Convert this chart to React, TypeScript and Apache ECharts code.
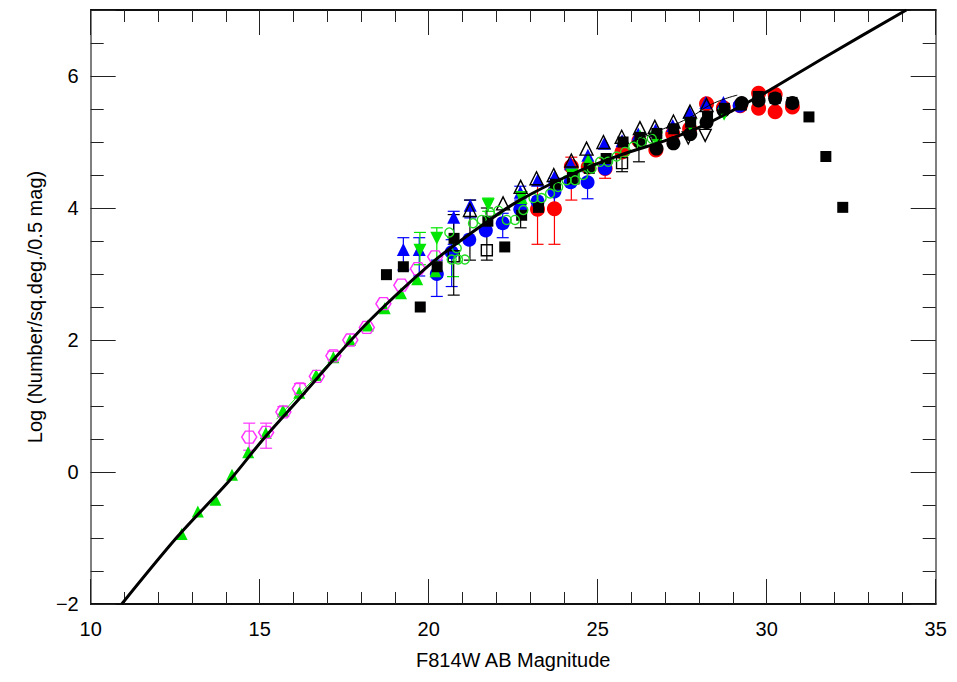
import React, { useEffect, useRef } from 'react';
import * as echarts from 'echarts';

// Model curves
const modelMag = [10.92, 12.55, 14.12, 15.11, 16.19, 17.18, 18.26, 20.19, 21.72, 22.7, 24.18, 25.66, 27.0, 28.0, 29.0, 30.0, 31.77, 34.13];
const modelLog = [-2.0, -0.99, -0.12, 0.5, 1.12, 1.7, 2.3, 3.21, 3.79, 4.12, 4.5, 4.8, 5.02, 5.22, 5.48, 5.76, 6.3, 7.0];
const thinBlack = [[26.0, 5.0], [26.8, 5.17], [27.68, 5.36], [28.4, 5.58], [29.13, 5.71]];
const thinGreen = [[15.5, 0.8], [16.4, 1.3], [17.3, 1.78]];

// Data series
const greenTri = [[12.69, -0.94], [13.17, -0.6], [13.69, -0.42], [14.18, -0.04], [14.66, 0.3], [15.18, 0.59], [15.69, 0.93], [16.17, 1.2], [16.67, 1.47], [17.18, 1.74], [17.67, 2.0], [18.2, 2.22], [18.7, 2.48], [19.18, 2.71], [19.66, 2.92], [20.2, 3.04], [22.75, 4.15], [24.72, 4.73], [26.25, 5.1], [26.75, 5.1]];
const greenInv = [[19.74, 3.36], [20.24, 3.54], [21.76, 4.05], [22.74, 4.16], [24.24, 4.5], [26.74, 5.06], [27.74, 5.25], [28.74, 5.42]];
const greenCirc = [[20.61, 3.63], [20.68, 3.22], [20.83, 3.39], [20.87, 3.22], [21.07, 3.22], [21.31, 3.77], [21.57, 3.82], [21.81, 3.93], [22.06, 3.96], [22.31, 3.82], [22.55, 3.82], [22.8, 3.97], [23.1, 4.15], [23.34, 4.15], [23.59, 4.22], [23.83, 4.32], [24.08, 4.42], [24.33, 4.42], [24.57, 4.5], [24.82, 4.6], [25.07, 4.7], [25.31, 4.7], [25.56, 4.78], [25.81, 4.85], [26.05, 4.93], [26.3, 5.0], [26.6, 5.05]];
const magentaHex = [[14.69, 0.53], [15.19, 0.6], [15.7, 0.91], [16.19, 1.26], [16.69, 1.45], [17.18, 1.76], [17.68, 2.0], [18.17, 2.19], [18.66, 2.55], [19.19, 2.83], [19.68, 3.08], [20.19, 3.26]];
const blackSq = [[18.75, 2.99], [19.25, 3.11], [19.75, 2.5], [20.25, 3.11], [20.75, 3.54], [21.75, 3.8], [22.25, 3.41], [22.75, 3.89], [23.25, 4.01], [23.75, 4.36], [24.25, 4.45], [24.75, 4.6], [25.25, 4.75], [25.75, 5.0], [26.25, 5.07], [26.75, 5.13], [27.25, 5.2], [27.75, 5.3], [28.25, 5.39], [28.75, 5.51], [29.25, 5.56], [29.75, 5.69], [30.25, 5.66], [30.75, 5.6], [31.25, 5.38], [31.75, 4.78], [32.25, 4.01]];
const blueTri = [[19.25, 3.37], [19.72, 3.37], [20.74, 3.86], [21.23, 4.04], [22.71, 4.24], [23.22, 4.42], [23.72, 4.47], [24.2, 4.67], [24.71, 4.8], [25.2, 4.98], [25.72, 5.02], [26.2, 5.12], [26.71, 5.18], [27.22, 5.25], [27.71, 5.45], [28.2, 5.6], [28.72, 5.6]];
const blueCirc = [[20.24, 3.0], [20.68, 3.33], [21.2, 3.52], [21.69, 3.66], [22.19, 3.77], [22.71, 3.98], [23.22, 4.1], [23.72, 4.25], [24.2, 4.39], [24.7, 4.39], [25.22, 4.6], [29.2, 5.55]];
const redCirc = [[23.22, 3.98], [23.72, 3.99], [24.22, 4.63], [24.72, 4.62], [25.22, 4.6], [25.72, 4.85], [26.22, 5.02], [26.72, 4.88], [27.22, 5.12], [27.72, 5.2], [28.22, 5.58], [28.72, 5.52], [29.22, 5.55], [29.76, 5.74], [29.76, 5.51], [30.25, 5.72], [30.25, 5.46], [30.76, 5.53]];
const blackCirc = [[26.25, 5.0], [26.74, 4.9], [27.24, 4.98], [27.74, 5.12], [28.22, 5.3], [28.72, 5.48], [29.26, 5.59], [29.76, 5.63], [30.25, 5.66], [30.76, 5.59]];
const blackOpenTri = [[21.22, 3.97], [22.2, 4.07], [22.72, 4.32], [23.19, 4.45], [23.7, 4.5], [24.22, 4.72], [24.67, 4.9], [25.17, 5.0], [25.71, 5.08], [26.25, 5.21], [26.69, 5.23], [27.24, 5.31], [27.73, 5.46], [28.22, 5.56]];
const blackOpenInv = [[26.7, 5.0], [27.68, 5.06], [28.18, 5.1]];
const blackOpenSq = [[20.74, 3.27], [21.72, 3.36], [24.28, 4.45], [25.72, 4.68]];

// Error bars: [mag, low, high]
const magentaErr = [[14.69, 0.33, 0.74], [15.19, 0.36, 0.74], [15.7, 0.84, 0.99], [16.19, 1.18, 1.34], [17.18, 1.7, 1.83]];
const blueTriErr = [[19.25, 3.06, 3.55], [19.72, 2.97, 3.55], [20.74, 3.45, 3.95], [21.23, 3.85, 4.12], [22.71, 4.12, 4.33]];
const blueCircErr = [[20.24, 2.66, 3.21], [20.68, 2.81, 3.52], [22.19, 3.55, 3.92], [23.72, 4.05, 4.45], [24.7, 4.14, 4.55]];
const blackErr = [[20.74, 2.68, 3.9], [21.22, 3.21, 4.12], [21.72, 3.21, 4.0], [22.72, 3.7, 4.05], [25.72, 4.55, 4.85], [26.22, 4.7, 5.0]];
const greenErr = [[19.74, 3.14, 3.63], [20.24, 2.95, 3.7], [20.72, 2.96, 3.55], [21.76, 3.95, 4.15]];
const redErr = [[23.22, 3.45, 4.35], [23.72, 3.45, 4.3], [24.22, 4.12, 4.77], [25.22, 4.45, 4.75]];

const FONT = 'Liberation Sans, Arial, sans-serif';
const HEX = 'path://M-1,0 L-0.5,-0.866 L0.5,-0.866 L1,0 L0.5,0.866 L-0.5,0.866 Z';

function errSeries(data: number[][], color: string, z: number) {
  return {
    type: 'custom',
    xAxisIndex: 0,
    yAxisIndex: 0,
    silent: true,
    z,
    data,
    encode: { x: 0, y: [1, 2] },
    renderItem: (_p: any, api: any) => {
      const x = api.value(0);
      const lo = api.coord([x, api.value(1)]);
      const hi = api.coord([x, api.value(2)]);
      const w = 6;
      const st = { stroke: color, lineWidth: 1.2 };
      return {
        type: 'group',
        children: [
          { type: 'line', shape: { x1: lo[0], y1: lo[1], x2: hi[0], y2: hi[1] }, style: st },
          { type: 'line', shape: { x1: lo[0] - w, y1: lo[1], x2: lo[0] + w, y2: lo[1] }, style: st },
          { type: 'line', shape: { x1: hi[0] - w, y1: hi[1], x2: hi[0] + w, y2: hi[1] }, style: st },
        ],
      };
    },
  };
}

function scatter(data: number[][], symbol: string, size: any, color: string, open: boolean, z: number, rotate = 0) {
  return {
    type: 'scatter',
    xAxisIndex: 0,
    yAxisIndex: 0,
    data,
    symbol,
    symbolSize: size,
    symbolRotate: rotate,
    z,
    silent: true,
    itemStyle: open
      ? { color: 'rgba(0,0,0,0)', borderColor: color, borderWidth: 1.4, opacity: 1 }
      : { color, borderWidth: 0, opacity: 1 },
  };
}

function xAx(position: string, interval: number, len: number, labels: boolean, lineColor: string) {
  return {
    type: 'value',
    position,
    min: 10,
    max: 35,
    interval,
    axisLine: { show: true, onZero: false, lineStyle: { color: lineColor, width: 1.5 } },
    axisTick: { show: true, inside: true, length: len, lineStyle: { color: '#222', width: 1 } },
    axisLabel: { show: labels, fontSize: 20, color: '#000', margin: 15, fontFamily: FONT },
    splitLine: { show: false },
    ...(labels
      ? {
          name: 'F814W AB Magnitude',
          nameLocation: 'middle',
          nameGap: 46,
          nameTextStyle: { fontSize: 20, color: '#000', fontFamily: FONT },
        }
      : {}),
  };
}

function yAx(position: string, interval: number, len: number, labels: boolean, lineColor: string) {
  return {
    type: 'value',
    position,
    min: -2,
    max: 7,
    interval,
    axisLine: { show: true, onZero: false, lineStyle: { color: lineColor, width: 1.5 } },
    axisTick: { show: true, inside: true, length: len, lineStyle: { color: '#222', width: 1 } },
    axisLabel: {
      show: labels,
      fontSize: 20,
      color: '#000',
      margin: 12,
      fontFamily: FONT,
      formatter: (v: number) => (v === 7 ? '' : v < 0 ? '\u2212' + Math.abs(v) : String(v)),
    },
    splitLine: { show: false },
    ...(labels
      ? {
          name: 'Log (Number/sq.deg./0.5 mag)',
          nameLocation: 'middle',
          nameGap: 44,
          nameRotate: 90,
          nameTextStyle: { fontSize: 20, color: '#000', fontFamily: FONT },
        }
      : {}),
  };
}

export default function App() {
  const ref = useRef<HTMLDivElement>(null);
  useEffect(() => {
    const chart = echarts.init(ref.current!, null, { renderer: 'svg' });
    const option: any = {
      animation: false,
      backgroundColor: '#fff',
      grid: { left: 90.7, right: 21.3, top: 10, bottom: 78 },
      xAxis: [
        xAx('bottom', 5, 25, true, '#000'),
        xAx('bottom', 1, 12, false, '#000'),
        xAx('top', 5, 25, false, '#000'),
        xAx('top', 1, 12, false, '#000'),
      ],
      yAxis: [
        yAx('left', 2, 25, true, '#777'),
        yAx('left', 0.5, 13, false, '#777'),
        yAx('right', 2, 25, false, '#777'),
        yAx('right', 0.5, 13, false, '#777'),
      ],
      series: [
        errSeries(redErr, '#ff0000', 2),
        errSeries(blueCircErr, '#0000ff', 2),
        errSeries(blueTriErr, '#0000ff', 2),
        errSeries(greenErr, '#00e600', 2),
        errSeries(blackErr, '#000000', 2),
        errSeries(magentaErr, '#ff33ff', 2),
        scatter(redCirc, 'circle', 15, '#ff0000', false, 3),
        scatter(blueCirc, 'circle', 14, '#0000ff', false, 3),
        scatter(blackCirc, 'circle', 14, '#000000', false, 4),
        scatter(blueTri, 'triangle', 13, '#0000ff', false, 4),
        scatter(greenInv, 'triangle', 13, '#00e600', false, 4, 180),
        scatter(greenTri, 'triangle', 12, '#00e600', false, 4),
        scatter(magentaHex, HEX, [15, 12], '#ff33ff', true, 5),
        scatter(blackSq, 'rect', 11, '#000000', false, 5),
        scatter(blackOpenSq, 'rect', 11, '#000000', true, 5),
        scatter(blackOpenTri, 'triangle', 13, '#000000', true, 5),
        scatter(blackOpenInv, 'triangle', 12, '#000000', true, 5, 180),
        scatter(greenCirc, 'circle', 9, '#22dd22', true, 6),
        {
          type: 'line', xAxisIndex: 0, yAxisIndex: 0, data: thinGreen, symbol: 'none', smooth: true, z: 6,
          lineStyle: { color: '#00e600', width: 1 }, silent: true,
        },
        {
          type: 'line', xAxisIndex: 0, yAxisIndex: 0, data: thinBlack, symbol: 'none', smooth: true, z: 7,
          lineStyle: { color: '#000', width: 1 }, silent: true,
        },
        {
          type: 'line', xAxisIndex: 0, yAxisIndex: 0,
          data: modelMag.map((m, i) => [m, modelLog[i]]),
          symbol: 'none', smooth: 0.3, z: 8,
          lineStyle: { color: '#000', width: 3 }, silent: true,
        },
      ],
    };
    chart.setOption(option);
    return () => chart.dispose();
  }, []);
  return (
    <div
      ref={ref}
      style={{ position: 'fixed', left: 0, top: 0, width: 957, height: 682, background: '#fff' }}
    />
  );
}
